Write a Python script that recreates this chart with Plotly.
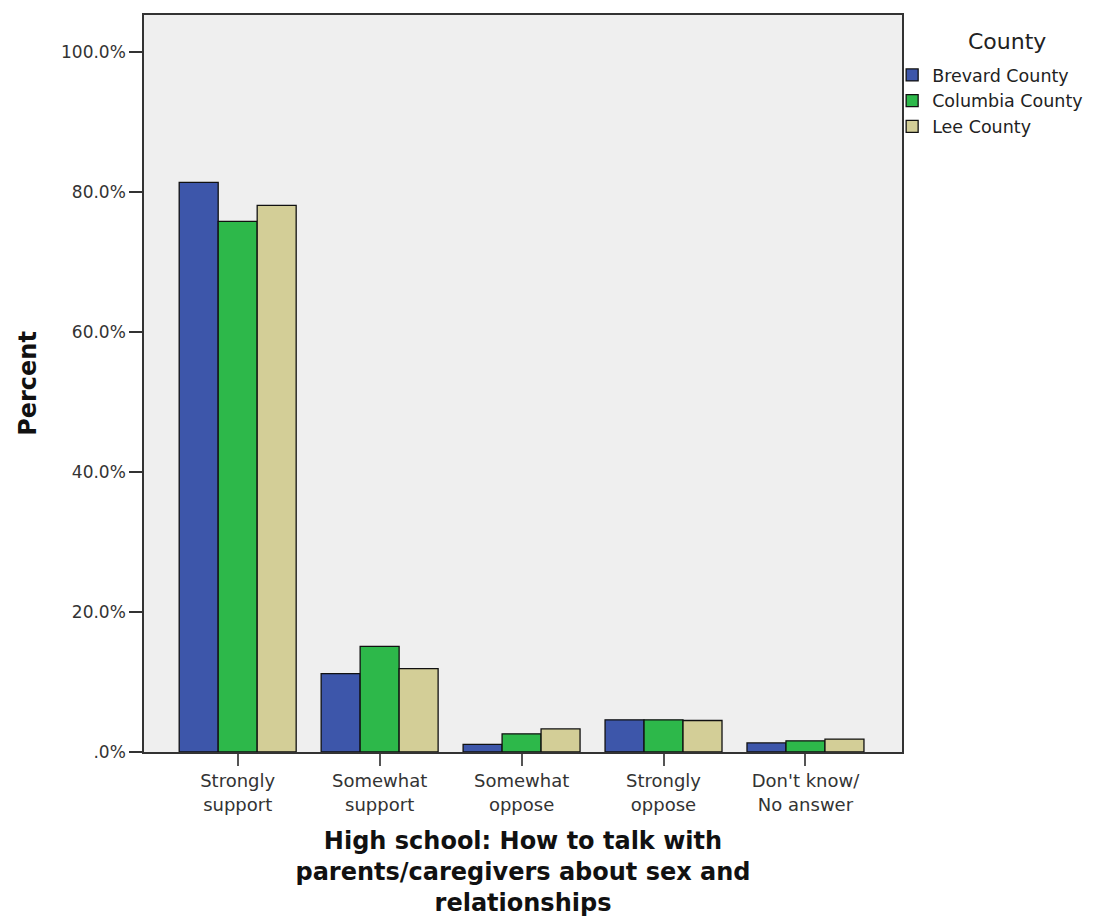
import plotly.graph_objects as go

# Response categories (x axis)
categories = ["Strongly<br>support", "Somewhat<br>support", "Somewhat<br>oppose",
              "Strongly<br>oppose", "Don't know/<br>No answer"]

# Percent of respondents per county
brevard = [81.4, 11.2, 1.1, 4.6, 1.3]
columbia = [75.8, 15.1, 2.6, 4.6, 1.6]
lee = [78.1, 11.9, 3.3, 4.5, 1.85]

counties = ["Brevard County", "Columbia County", "Lee County"]
colors = ["#3D56AA", "#2DB84A", "#D3CE97"]

ytick_vals = [0, 20, 40, 60, 80, 100]
ytick_text = [".0%", "20.0%", "40.0%", "60.0%", "80.0%", "100.0%"]

font_family = "DejaVu Sans, Verdana, sans-serif"

fig = go.Figure()
for name, vals, col in zip(counties, [brevard, columbia, lee], colors):
    fig.add_trace(go.Bar(
        x=categories,
        y=vals,
        name=name,
        marker=dict(color=col, line=dict(color="#111111", width=1.3)),
    ))

# page body has an 8px margin, so the figure is shrunk by that much
fig.update_layout(
    width=1105,
    height=909,
    barmode="group",
    bargap=0.176,
    bargroupgap=0,
    paper_bgcolor="white",
    plot_bgcolor="#EFEFEF",
    margin=dict(l=136, r=211, t=5, b=164),
    font=dict(family=font_family, color="#222222"),
    legend=dict(
        x=0.987, xanchor="left", y=0.943, yanchor="top",
        font=dict(size=17.5, color="#222222"),
        bgcolor="rgba(0,0,0,0)",
        tracegroupgap=0,
        itemwidth=30,
    ),
)

# legend heading drawn separately so the gap under it can be set
fig.add_annotation(
    text="County", xref="paper", yref="paper", x=1.1385, y=0.9635,
    xanchor="center", yanchor="middle", showarrow=False,
    font=dict(size=22, color="#222222"),
)

fig.update_xaxes(
    range=[-0.66, 4.68],
    showline=True, linecolor="#333333", linewidth=1.5, mirror=True,
    ticks="outside", ticklen=12, tickwidth=2, tickcolor="#555555",
    tickfont=dict(size=18, color="#333333"),
    showgrid=False,
    title=dict(
        text="<b>High school: How to talk with<br>parents/caregivers about sex and<br>relationships</b>",
        font=dict(size=24, color="#111111"),
        standoff=18,
    ),
)

fig.update_yaxes(
    range=[0, 105.3],
    tickvals=ytick_vals, ticktext=ytick_text,
    showline=True, linecolor="#333333", linewidth=1.5, mirror=True,
    ticks="outside", ticklen=13, tickwidth=1.5, tickcolor="#333333",
    tickfont=dict(size=17, color="#333333"),
    showgrid=False, zeroline=False,
    title=dict(text="<b>Percent</b>", font=dict(size=24, color="#111111"), standoff=18),
)

fig.write_html("out.html")
